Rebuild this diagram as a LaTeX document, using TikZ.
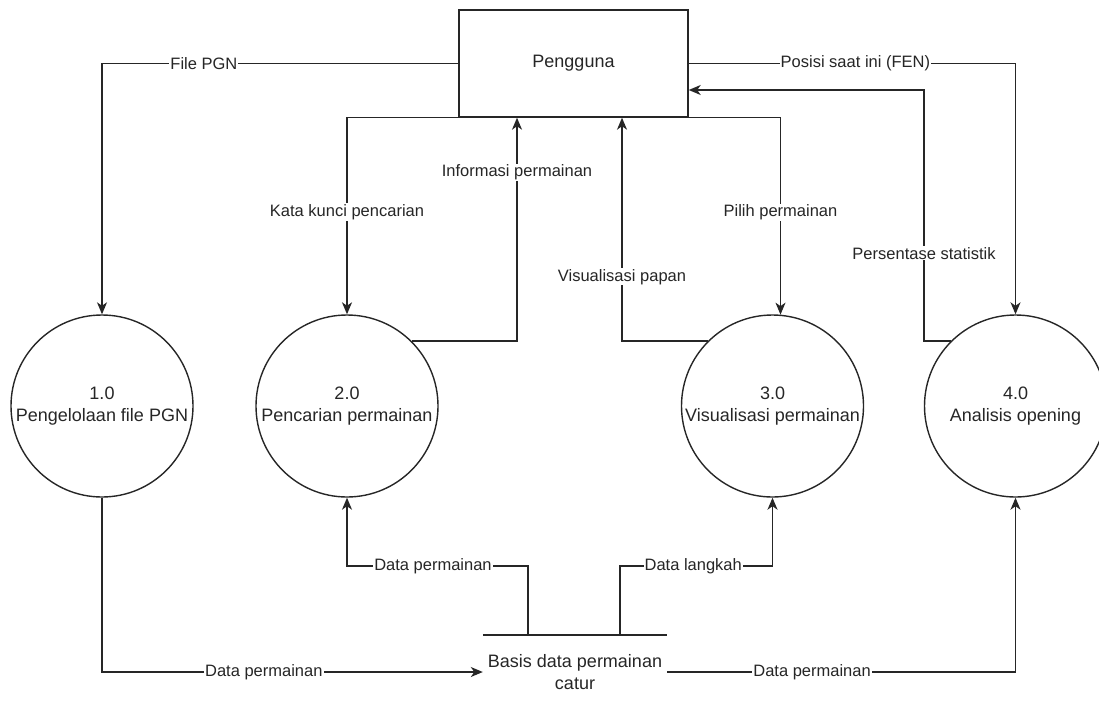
\documentclass[tikz,border=0pt]{standalone}
\usepackage{fontspec}
\setmainfont{Liberation Sans}
\usetikzlibrary{arrows.meta,calc}
\begin{document}
\begin{tikzpicture}[x=1pt,y=1pt,
  ink/.style={draw=black!85, line width=1.4pt},
  flow/.style={ink, -{Stealth[length=12pt,width=10pt,inset=3.5pt]}},
  proc/.style={circle, ink, minimum size=182pt, inner sep=0pt, align=center,
    font=\fontsize{18}{22.5}\selectfont, text=black!85},
  entity/.style={rectangle, ink, minimum width=229pt, minimum height=107pt,
    inner sep=0pt, font=\fontsize{18}{22.5}\selectfont, text=black!85},
  store/.style={rectangle, minimum width=184pt, minimum height=74pt, inner sep=0pt,
    align=center, font=\fontsize{18}{22.5}\selectfont, text=black!85},
  lbl/.style={fill=white, inner sep=1pt, font=\fontsize{16.5}{19}\selectfont, text=black!85},
]
\useasboundingbox (0,0) rectangle (1099,-707);

% external entity
\node[entity] (user) at (573.5,-63.5) {Pengguna};

% processes
\node[proc] (p1) at (102,-406) {\makebox[140pt]{1.0}\\\makebox[140pt]{Pengelolaan file PGN}};
\node[proc] (p2) at (347,-406) {\makebox[140pt]{2.0}\\\makebox[140pt]{Pencarian permainan}};
\node[proc] (p3) at (772.5,-406) {\makebox[140pt]{3.0}\\\makebox[140pt]{Visualisasi permainan}};
\node[proc] (p4) at (1015.5,-406) {\makebox[140pt]{4.0}\\\makebox[140pt]{Analisis opening}};

% data store
\node[store] (db) at (575,-672) {Basis data permainan\\catur};
\draw[ink] (db.north west) -- (db.north east);

% flows between the user and the processes
\draw[flow] (user.west) -| node[lbl,pos=0.357]{File PGN} (p1.north);
\draw[flow] (user.south west) -| node[lbl,pos=0.74]{Kata kunci pencarian} (p2.north);
\draw[flow] (p2.45) -| node[lbl,pos=0.878]{Informasi permainan} ([xshift=-56.5pt]user.south);
\draw[flow] (p3.135) -| node[lbl,pos=0.644]{Visualisasi papan} ([xshift=48.5pt]user.south);
\draw[flow] (user.south east) -| node[lbl,pos=0.74]{Pilih permainan} (p3.85);
\coordinate (bend4) at (924,-90);
\draw[flow] (p4.135) -| node[lbl,pos=0.675]{Persentase statistik} (bend4) -- (user.east |- bend4);
\draw[flow] (user.east) -| node[lbl,pos=0.255]{Posisi saat ini (FEN)} (p4.north);

% flows to and from the data store
\draw[flow] (p1.south) |- node[lbl,pos=0.7125]{Data permainan} (db.west);
\draw[flow] ([xshift=-47pt]db.north) -- ++(0,69) -| node[lbl,pos=0.2625]{Data permainan} (p2.south);
\draw[flow] ([xshift=45pt]db.north) -- ++(0,69) -| node[lbl,pos=0.24]{Data langkah} (p3.south);
\draw[flow] (db.east) -| node[lbl,pos=0.208]{Data permainan} (p4.south);
\end{tikzpicture}
\end{document}
